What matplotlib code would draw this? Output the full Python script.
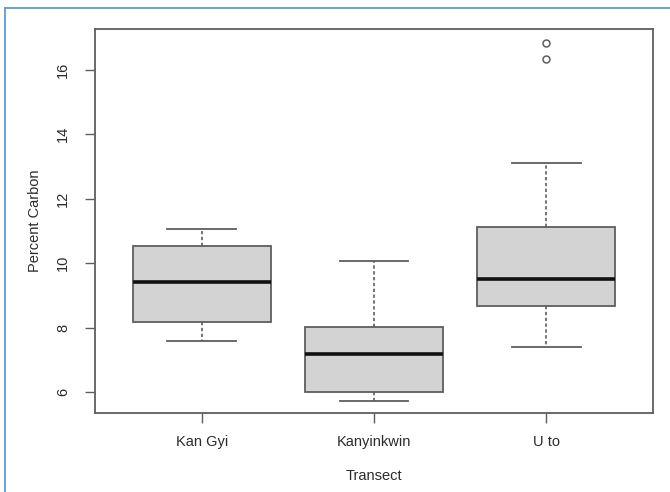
import matplotlib
matplotlib.use("Agg")
from matplotlib import pyplot as plt
from matplotlib.lines import Line2D

plt.rcParams['font.family'] = ['Liberation Sans', 'DejaVu Sans']

# values
transects = ['Kan Gyi', 'Kanyinkwin', 'U to']
whis_lo = [7.59, 5.73, 7.39]
q1 = [8.18, 6.01, 8.68]
median = [9.42, 7.18, 9.50]
q3 = [10.54, 8.02, 11.11]
whis_hi = [11.06, 10.07, 13.12]
outliers = [[], [], [16.35, 16.83]]
y_ticks = [6, 8, 10, 12, 14, 16]

edge = '#5e5e5e'
text_col = '#2b2b2b'

stats = []
for i in range(len(transects)):
    stats.append({'label': transects[i], 'whislo': whis_lo[i], 'q1': q1[i],
                  'med': median[i], 'q3': q3[i], 'whishi': whis_hi[i],
                  'fliers': outliers[i]})

fig = plt.figure(figsize=(6.7, 4.92), dpi=100)
ax = fig.add_axes([95 / 670, 1 - 413 / 492, (653 - 95) / 670, (413 - 29) / 492])

ax.bxp(stats, positions=[1, 2, 3], widths=0.8, capwidths=0.4, patch_artist=True,
       boxprops=dict(facecolor='#d3d3d3', edgecolor=edge, linewidth=1.3),
       medianprops=dict(color='#111111', linewidth=2.6),
       whiskerprops=dict(color=edge, linewidth=1.2, linestyle=(0, (2, 1.5))),
       capprops=dict(color=edge, linewidth=1.3),
       flierprops=dict(marker='o', markersize=5, markerfacecolor='none',
                       markeredgecolor=edge, markeredgewidth=1.1))

ax.set_xlim(0.38, 3.62)
ax.set_ylim(5.35, 17.27)
ax.set_yticks(y_ticks)
ax.set_yticklabels([str(t) for t in y_ticks], rotation=90, va='center')
ax.set_xticks([1, 2, 3])
ax.set_xticklabels(transects)

for s in ax.spines.values():
    s.set_color(edge)
    s.set_linewidth(1.3)
ax.tick_params(axis='both', colors=edge, labelcolor=text_col, length=7,
               width=1.0, labelsize=10.5)
ax.tick_params(axis='x', pad=9)
ax.tick_params(axis='y', pad=11)

ax.set_xlabel('Transect', fontsize=10.5, color=text_col, labelpad=14)
ax.set_ylabel('Percent Carbon', fontsize=10.5, color=text_col, labelpad=10)

# light blue frame around the picture (top and left edges only)
fig.add_artist(Line2D([5 / 670, 1], [1 - 8 / 492, 1 - 8 / 492],
                      transform=fig.transFigure, color='#5b9bd5', linewidth=1.3))
fig.add_artist(Line2D([5 / 670, 5 / 670], [0, 1 - 8 / 492],
                      transform=fig.transFigure, color='#5b9bd5', linewidth=1.3))

fig.savefig('out.png', dpi=100)
